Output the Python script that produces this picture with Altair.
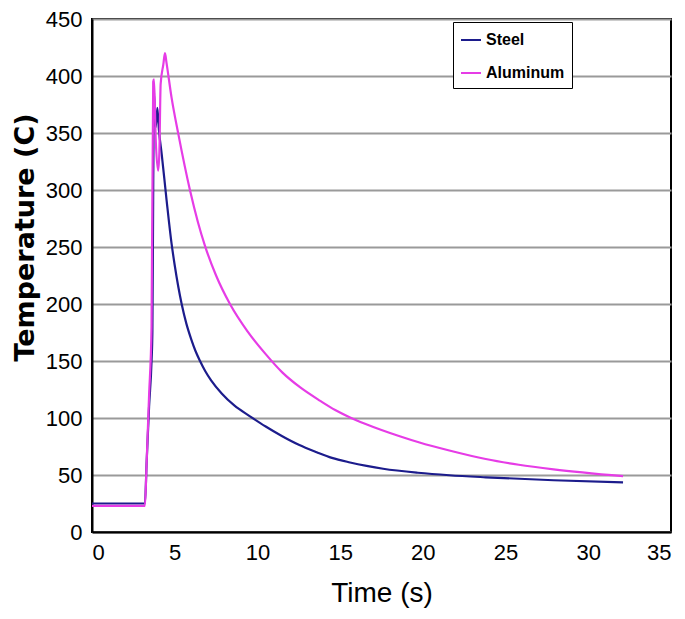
import altair as alt
import pandas as pd

steel_t = [0, 1.0, 2.0, 3.2, 3.3, 3.45, 3.6, 3.65, 3.7, 3.75, 3.85, 3.95, 4.05, 4.21, 4.51,
           4.81, 5.0, 5.42, 5.7, 6.0, 6.25, 6.53, 6.85, 7.2, 7.84, 8.6, 9.55, 10.5, 11.5,
           12.5, 13.58, 14.5, 15.6, 16.6, 17.6, 19.7, 21.6, 23.8, 27.9, 32.1]
steel_v = [25, 25, 25, 25, 60, 110, 150, 175, 300, 385, 355, 372, 352, 332, 291,
           253, 234, 200, 183, 169, 159, 150, 141, 133, 121.5, 111, 101.5, 92.5, 84,
           76.5, 70, 65, 61, 58, 55.5, 52, 49.8, 48, 45.4, 43.5]

alu_t = [0, 1.0, 2.0, 3.2, 3.3, 3.45, 3.6, 3.7, 3.75, 3.85, 4.0, 4.07, 4.15, 4.31, 4.41,
         4.5, 4.81, 5.22, 5.92, 6.4, 6.83, 7.5, 8.34, 9.4, 10.5, 11.5, 12.57, 13.8,
         14.7, 15.6, 16.5, 17.5, 18.6, 19.8, 21.6, 23.8, 25.8, 27.9, 32.1]
alu_v = [23, 23, 23, 23, 60, 120, 180, 395, 397, 345, 317, 332, 393, 410, 420,
         412, 381, 349, 300, 272, 251, 225, 200, 176, 156, 140, 127, 115,
         107, 100.5, 95, 89.5, 84, 78.5, 71.5, 64, 59, 55, 49]

series = ["Steel", "Aluminum"]
colors = ["#1c1c8c", "#e63ce6"]
x_ticks = [0, 5, 10, 15, 20, 25, 30, 35]
y_ticks = [0, 50, 100, 150, 200, 250, 300, 350, 400, 450]

rows = []
for i, (t, v) in enumerate(zip(steel_t, steel_v)):
    rows.append({"time": t, "temp": v, "series": "Steel", "order": i})
for i, (t, v) in enumerate(zip(alu_t, alu_v)):
    rows.append({"time": t, "temp": v, "series": "Aluminum", "order": i})
df = pd.DataFrame(rows)

font = "Liberation Sans"

chart = alt.Chart(df).mark_line(strokeWidth=2.2, interpolate="monotone").encode(
    x=alt.X("time:Q", scale=alt.Scale(domain=[0, 35], nice=False),
            axis=alt.Axis(values=x_ticks, title="Time (s)", grid=False, ticks=False,
                          labelFontSize=22, labelFont=font, labelColor="black",
                          labelPadding=10, titleFontSize=28, titleFont=font,
                          titleFontWeight="normal", titleColor="black", titlePadding=16,
                          domainColor="black", domainWidth=2)),
    y=alt.Y("temp:Q", scale=alt.Scale(domain=[0, 450], nice=False),
            axis=alt.Axis(values=y_ticks, title="Temperature (C)", grid=True,
                          gridColor="#9a9a9a", gridWidth=2, ticks=False,
                          labelFontSize=22, labelFont=font, labelColor="black",
                          labelPadding=10, titleFontSize=27, titleFont="DejaVu Sans",
                          titleFontWeight="bold", titleColor="black",
                          titleAngle=-90, titleAlign="center", titleBaseline="top",
                          titleX=-80, titleY=218,
                          domainColor="black", domainWidth=2)),
    color=alt.Color("series:N", scale=alt.Scale(domain=series, range=colors),
                    legend=alt.Legend(title=None, orient="none", legendX=361, legendY=3,
                                      fillColor="white", strokeColor="black",
                                      padding=7, symbolType="stroke",
                                      symbolStrokeWidth=2, symbolSize=400,
                                      labelFontSize=16, labelFont=font,
                                      labelFontWeight="bold", labelColor="black",
                                      rowPadding=14, symbolOffset=0, labelOffset=4)),
    order="order:Q",
).properties(
    width=579, height=513,
    autosize=alt.AutoSizeParams(type="none"),
    padding={"left": 84, "top": 11, "right": 6, "bottom": 76},
).configure_view(stroke="black", strokeWidth=2)

chart.save("out.html", embed_options={"renderer": "svg", "actions": False})
